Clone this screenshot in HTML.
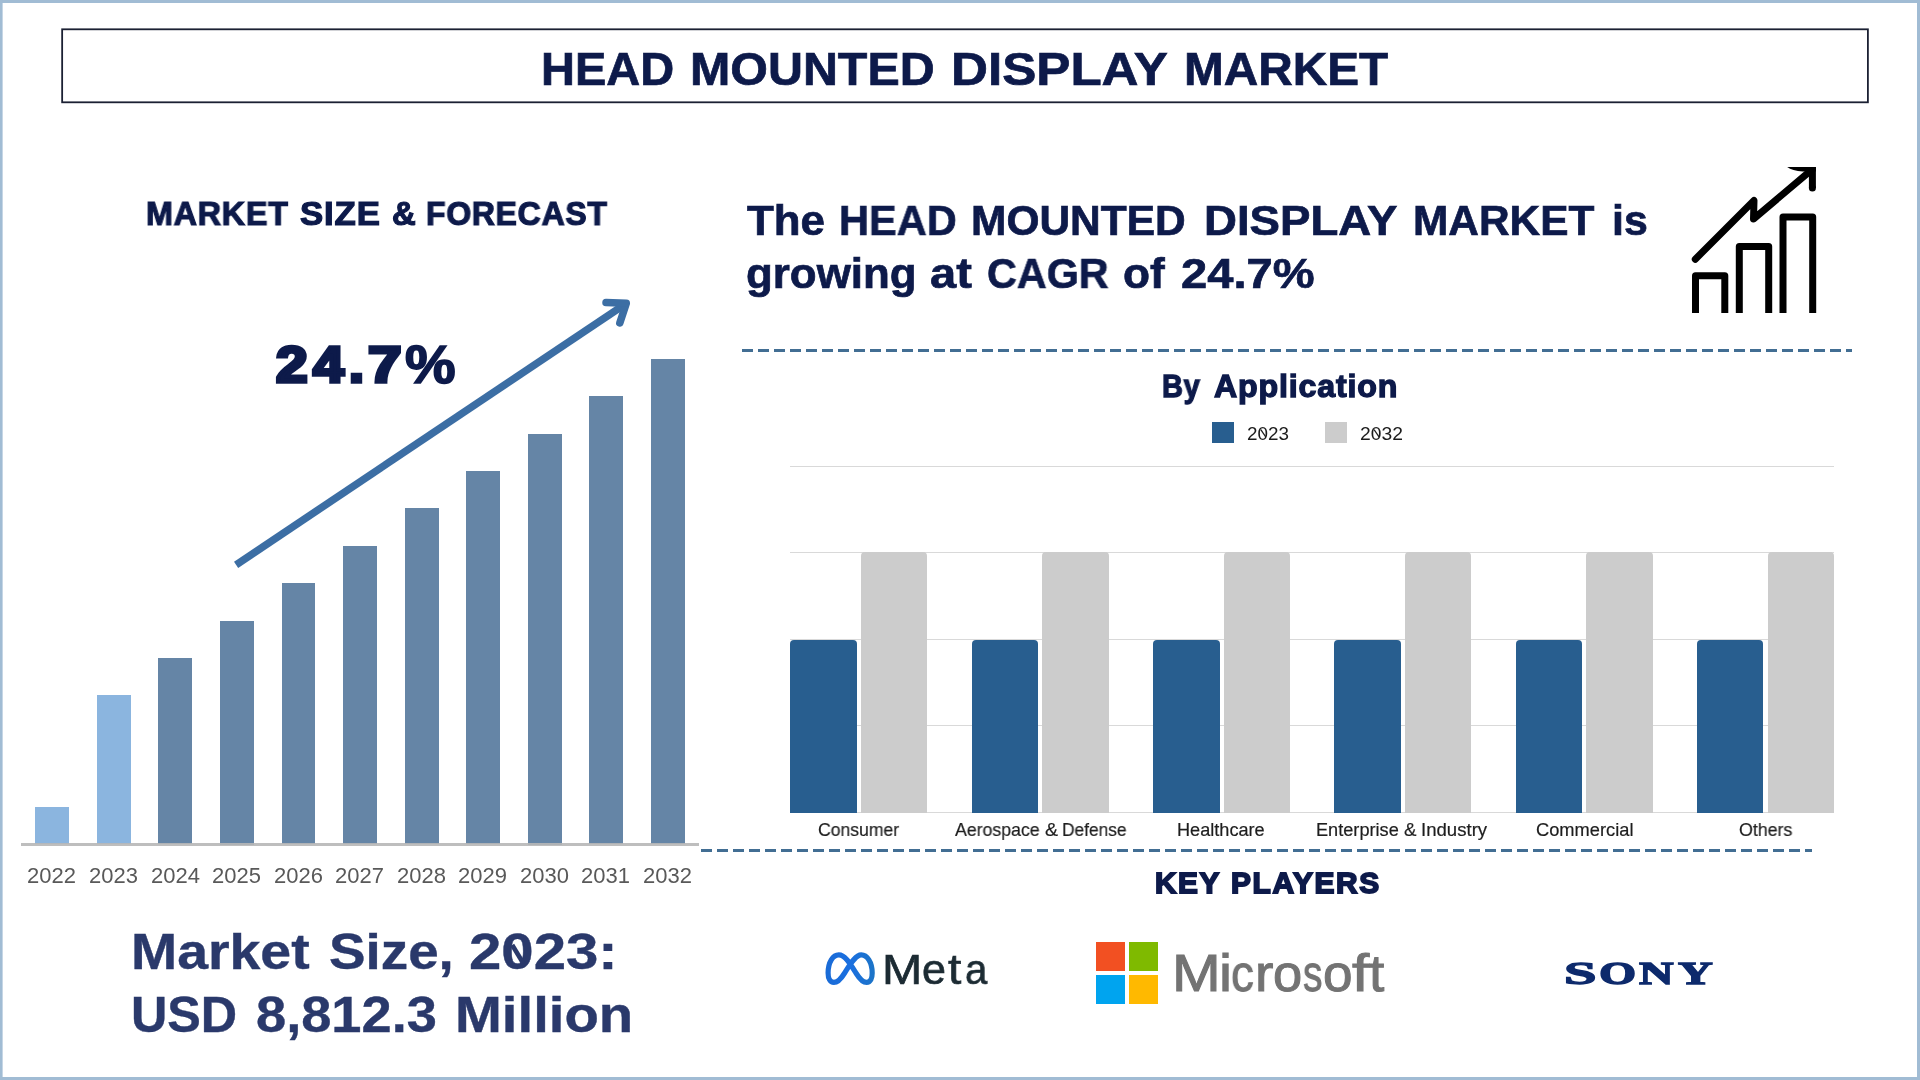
<!DOCTYPE html>
<html>
<head>
<meta charset="utf-8">
<title>Head Mounted Display Market</title>
<style>
  html, body { margin: 0; padding: 0; }
  body {
    width: 1920px; height: 1080px; overflow: hidden; background: #ffffff;
    font-family: "Liberation Sans", sans-serif;
    position: relative;
  }
  .t {
    position: absolute; white-space: nowrap; line-height: 1;
    transform-origin: 0 0; margin: 0; padding: 0; will-change: transform;
  }
  .navy { color: #0d1a4a; }
  .b { font-weight: bold; -webkit-text-stroke: 0.7px currentColor; }
  /* left bar chart */
  .lb { position: absolute; width: 33.8px; background: #6585a6; }
  .lb.l { background: #8bb5df; }
  .yr { color: #595959; font-size: 22px; }
  /* right bar chart */
  .grid { position: absolute; left: 790px; width: 1044px; height: 1px; background: #d9d9d9; }
  .rb { position: absolute; width: 66.6px; border-radius: 4px 4px 0 0; }
  .rb.blue { background: #285e8f; top: 639.6px; height: 173px; }
  .rb.gray { background: #cccccc; top: 552.4px; height: 260.2px; }
  .cat { color: #1f1f1f; font-size: 17.3px; }
  .leg { color: #1c1c1c; font-size: 17.6px; }
  .dash { position: absolute; height: 3.5px;
    background: repeating-linear-gradient(90deg, #426e93 0, #426e93 11.5px, transparent 11.5px, transparent 16px); }
</style>
</head>
<body>
<svg id="frame" style="position:absolute; left:0; top:0;" width="1920" height="1080" viewBox="0 0 1920 1080">
  <g fill="#a1bcd4"><rect x="0" y="0" width="1920" height="3"/><rect x="0" y="1077" width="1920" height="3"/><rect x="0" y="0" width="2.6" height="1080"/><rect x="1917" y="0" width="3" height="1080"/></g>
</svg>

<!--GEN-START-->
<div id="title" style="font-weight:bold;color:#0d1a4a;-webkit-text-stroke-color:#0d1a4a;">
  <span class="t" style="left:540.91px;top:46.25px;font-size:46.37px;-webkit-text-stroke-width:0.7px;transform:scaleX(1.0141)">HEAD</span>
  <span class="t" style="left:689.83px;top:46.25px;font-size:46.37px;-webkit-text-stroke-width:0.7px;transform:scaleX(1.0439)">MOUNTED</span>
  <span class="t" style="left:950.86px;top:46.25px;font-size:46.37px;-webkit-text-stroke-width:0.7px;transform:scaleX(1.1033)">DISPLAY</span>
  <span class="t" style="left:1184.06px;top:46.25px;font-size:46.37px;-webkit-text-stroke-width:0.7px;transform:scaleX(1.0302)">MARKET</span>
</div>
<div id="msf" style="font-weight:bold;color:#0d1a4a;-webkit-text-stroke-color:#0d1a4a;">
  <span class="t" style="left:145.93px;top:197.50px;font-size:32.92px;-webkit-text-stroke-width:1.2px;letter-spacing:0.8px;transform:scaleX(0.9798)">MARKET</span>
  <span class="t" style="left:300.38px;top:197.50px;font-size:32.92px;-webkit-text-stroke-width:1.2px;letter-spacing:0.8px;transform:scaleX(1.0570)">SIZE</span>
  <span class="t" style="left:391.65px;top:197.50px;font-size:32.92px;-webkit-text-stroke-width:1.2px;letter-spacing:0.8px;transform:scaleX(1.0005)">&amp;</span>
  <span class="t" style="left:426.45px;top:197.50px;font-size:32.92px;-webkit-text-stroke-width:1.2px;letter-spacing:0.8px;transform:scaleX(0.9696)">FORECAST</span>
</div>
<div id="h1" style="font-weight:bold;color:#0d1a4a;-webkit-text-stroke-color:#0d1a4a;">
  <span class="t" style="left:747.07px;top:199.65px;font-size:41.86px;-webkit-text-stroke-width:0.7px;transform:scaleX(1.0476)">The</span>
  <span class="t" style="left:839.37px;top:199.65px;font-size:41.86px;-webkit-text-stroke-width:0.7px;transform:scaleX(0.9917)">HEAD</span>
  <span class="t" style="left:971.11px;top:199.65px;font-size:41.86px;-webkit-text-stroke-width:0.7px;transform:scaleX(1.0147)">MOUNTED</span>
  <span class="t" style="left:1204.33px;top:199.65px;font-size:41.86px;-webkit-text-stroke-width:0.7px;transform:scaleX(1.0898)">DISPLAY</span>
  <span class="t" style="left:1412.52px;top:199.65px;font-size:41.86px;-webkit-text-stroke-width:0.7px;transform:scaleX(1.0128)">MARKET</span>
  <span class="t" style="left:1611.86px;top:199.65px;font-size:41.86px;-webkit-text-stroke-width:0.7px;transform:scaleX(1.0252)">is</span>
</div>
<div id="h2" style="font-weight:bold;color:#0d1a4a;-webkit-text-stroke-color:#0d1a4a;">
  <span class="t" style="left:745.77px;top:252.55px;font-size:41.86px;-webkit-text-stroke-width:0.7px;transform:scaleX(1.0476)">growing</span>
  <span class="t" style="left:929.51px;top:252.55px;font-size:41.86px;-webkit-text-stroke-width:0.7px;transform:scaleX(1.1249)">at</span>
  <span class="t" style="left:986.65px;top:252.55px;font-size:41.86px;-webkit-text-stroke-width:0.7px;transform:scaleX(0.9870)">CAGR</span>
  <span class="t" style="left:1123.14px;top:252.55px;font-size:41.86px;-webkit-text-stroke-width:0.7px;transform:scaleX(1.0555)">of</span>
  <span class="t" style="left:1181.06px;top:252.55px;font-size:41.86px;-webkit-text-stroke-width:0.7px;transform:scaleX(1.1251)">24.7%</span>
</div>
<div id="byapp" style="font-weight:bold;color:#0d1a4a;-webkit-text-stroke-color:#0d1a4a;">
  <span class="t" style="left:1162.08px;top:371.35px;font-size:30.67px;-webkit-text-stroke-width:1.3px;letter-spacing:0.8px;transform:scaleX(0.9418)">By</span>
  <span class="t" style="left:1214.08px;top:371.35px;font-size:30.67px;-webkit-text-stroke-width:1.3px;letter-spacing:0.8px;transform:scaleX(1.0491)">Application</span>
</div>
<div id="kp" style="font-weight:bold;color:#0d1a4a;-webkit-text-stroke-color:#0d1a4a;">
  <span class="t" style="left:1154.53px;top:868.85px;font-size:29.14px;-webkit-text-stroke-width:1.8px;letter-spacing:1.6px;transform:scaleX(1.0213)">KEY</span>
  <span class="t" style="left:1230.82px;top:868.85px;font-size:29.14px;-webkit-text-stroke-width:1.8px;letter-spacing:1.6px;transform:scaleX(1.0255)">PLAYERS</span>
</div>
<div id="ms1" style="font-weight:bold;color:#2a396b;-webkit-text-stroke-color:#2a396b;">
  <span class="t" style="left:131.11px;top:927.40px;font-size:50.29px;-webkit-text-stroke-width:0.4px;transform:scaleX(1.1021)">Market</span>
  <span class="t" style="left:328.64px;top:927.40px;font-size:50.29px;-webkit-text-stroke-width:0.4px;transform:scaleX(1.0892)">Size,</span>
  <span class="t" style="left:468.62px;top:927.40px;font-size:50.29px;-webkit-text-stroke-width:0.4px;transform:scaleX(1.1559)">2023:</span>
</div>
<div id="ms2" style="font-weight:bold;color:#2a396b;-webkit-text-stroke-color:#2a396b;">
  <span class="t" style="left:131.08px;top:990.30px;font-size:50.29px;-webkit-text-stroke-width:0.4px;transform:scaleX(0.9987)">USD</span>
  <span class="t" style="left:256.29px;top:990.30px;font-size:50.29px;-webkit-text-stroke-width:0.4px;transform:scaleX(1.0780)">8,812.3</span>
  <span class="t" style="left:455.21px;top:990.30px;font-size:50.29px;-webkit-text-stroke-width:0.4px;transform:scaleX(1.1191)">Million</span>
</div>
<div id="cagr" style="font-weight:bold;color:#0d1a4a;-webkit-text-stroke-color:#0d1a4a;">
  <span class="t" style="left:275.58px;top:341.10px;font-size:49.86px;-webkit-text-stroke-width:3.6px;transform:scaleX(1.1411)">2</span>
  <span class="t" style="left:312.77px;top:341.10px;font-size:49.86px;-webkit-text-stroke-width:3.6px;transform:scaleX(1.1153)">4</span>
  <span class="t" style="left:348.79px;top:341.10px;font-size:49.86px;-webkit-text-stroke-width:3.6px;transform:scaleX(1.0813)">.</span>
  <span class="t" style="left:368.49px;top:341.10px;font-size:49.86px;-webkit-text-stroke-width:3.6px;transform:scaleX(1.2076)">7</span>
  <span class="t" style="left:405.45px;top:339.10px;font-size:52.72px;-webkit-text-stroke-width:1.6px;transform:scaleX(1.0793)">%</span>
</div>
<div id="meta" style="font-weight:normal;color:#1c2b33;-webkit-text-stroke-color:#1c2b33;">
  <span class="t" style="left:881.63px;top:947.65px;font-size:42.95px;-webkit-text-stroke-width:0.7px;transform:scaleX(1.1251)">M</span>
  <span class="t" style="left:922.02px;top:947.65px;font-size:42.95px;-webkit-text-stroke-width:0.7px;transform:scaleX(1.0026)">e</span>
  <span class="t" style="left:947.67px;top:947.65px;font-size:42.95px;-webkit-text-stroke-width:0.7px;transform:scaleX(1.1145)">t</span>
  <span class="t" style="left:964.87px;top:947.65px;font-size:42.95px;-webkit-text-stroke-width:0.7px;transform:scaleX(0.9382)">a</span>
</div>
<div id="msft" style="font-weight:normal;color:#737373;-webkit-text-stroke-color:#737373;">
  <span class="t" style="left:1171.73px;top:947.80px;font-size:51.74px;-webkit-text-stroke-width:1.0px;transform:scaleX(1.1301)">M</span>
  <span class="t" style="left:1218.74px;top:947.80px;font-size:51.74px;-webkit-text-stroke-width:1.0px;transform:scaleX(1.1359)">i</span>
  <span class="t" style="left:1231.30px;top:947.80px;font-size:51.74px;-webkit-text-stroke-width:1.0px;transform:scaleX(0.8839)">c</span>
  <span class="t" style="left:1255.06px;top:947.80px;font-size:51.74px;-webkit-text-stroke-width:1.0px;transform:scaleX(1.0694)">r</span>
  <span class="t" style="left:1273.10px;top:947.80px;font-size:51.74px;-webkit-text-stroke-width:1.0px;transform:scaleX(1.0147)">o</span>
  <span class="t" style="left:1303.39px;top:947.80px;font-size:51.74px;-webkit-text-stroke-width:1.0px;transform:scaleX(0.7513)">s</span>
  <span class="t" style="left:1323.18px;top:947.80px;font-size:51.74px;-webkit-text-stroke-width:1.0px;transform:scaleX(1.0265)">o</span>
  <span class="t" style="left:1352.12px;top:947.80px;font-size:51.74px;-webkit-text-stroke-width:1.0px;transform:scaleX(1.1959)">f</span>
  <span class="t" style="left:1369.10px;top:947.80px;font-size:51.74px;-webkit-text-stroke-width:1.0px;transform:scaleX(1.0625)">t</span>
</div>
<div id="sony" style="font-weight:bold;color:#0d2a6c;-webkit-text-stroke-color:#0d2a6c;font-family:'Liberation Serif';">
  <span class="t" style="left:1563.56px;top:957.35px;font-size:32.52px;-webkit-text-stroke-width:1.3px;transform:scaleX(1.7946)">S</span>
  <span class="t" style="left:1598.52px;top:957.35px;font-size:32.52px;-webkit-text-stroke-width:1.3px;transform:scaleX(1.4691)">O</span>
  <span class="t" style="left:1639.05px;top:957.35px;font-size:32.52px;-webkit-text-stroke-width:1.3px;transform:scaleX(1.4705)">N</span>
  <span class="t" style="left:1677.62px;top:957.35px;font-size:32.52px;-webkit-text-stroke-width:1.3px;transform:scaleX(1.4794)">Y</span>
</div>
<div id="cats" style="font-weight:normal;color:#1e1e1e;-webkit-text-stroke-color:#1e1e1e;">
  <span class="t" style="left:817.50px;top:821.20px;font-size:18.02px;-webkit-text-stroke-width:0.2px;transform:scaleX(0.9770)">Consumer</span>
  <span class="t" style="left:954.56px;top:821.20px;font-size:18.02px;-webkit-text-stroke-width:0.2px;transform:scaleX(0.9837)">Aerospace</span>
  <span class="t" style="left:1045.32px;top:821.20px;font-size:18.02px;-webkit-text-stroke-width:0.2px;transform:scaleX(1.0795)">&amp;</span>
  <span class="t" style="left:1061.97px;top:821.20px;font-size:18.02px;-webkit-text-stroke-width:0.2px;transform:scaleX(0.9627)">Defense</span>
  <span class="t" style="left:1176.61px;top:821.20px;font-size:18.02px;-webkit-text-stroke-width:0.2px;transform:scaleX(1.0065)">Healthcare</span>
  <span class="t" style="left:1316.31px;top:821.20px;font-size:18.02px;-webkit-text-stroke-width:0.2px;transform:scaleX(1.0084)">Enterprise</span>
  <span class="t" style="left:1403.65px;top:821.20px;font-size:18.02px;-webkit-text-stroke-width:0.2px;transform:scaleX(1.0353)">&amp;</span>
  <span class="t" style="left:1420.79px;top:821.20px;font-size:18.02px;-webkit-text-stroke-width:0.2px;transform:scaleX(1.0322)">Industry</span>
  <span class="t" style="left:1535.67px;top:821.20px;font-size:18.02px;-webkit-text-stroke-width:0.2px;transform:scaleX(1.0141)">Commercial</span>
  <span class="t" style="left:1738.86px;top:821.20px;font-size:18.02px;-webkit-text-stroke-width:0.2px;transform:scaleX(0.9875)">Others</span>
</div>
<!--GEN-END-->

<!-- Title -->
<svg id="titlebox" style="position:absolute; left:0; top:0;" width="1920" height="120" viewBox="0 0 1920 120">
  <rect x="62.15" y="29.3" width="1805.75" height="73" fill="none" stroke="#1b2033" stroke-width="1.8"/>
</svg>

<!-- Left panel heading -->

<!-- Left bar chart -->
<div id="lchart">
  <div class="lb l" style="left:35.25px; top:807.1px; height:37.4px;"></div>
  <div class="lb l" style="left:96.83px; top:694.8px; height:149.7px;"></div>
  <div class="lb" style="left:158.41px; top:657.9px; height:186.6px;"></div>
  <div class="lb" style="left:219.99px; top:620.5px; height:224.0px;"></div>
  <div class="lb" style="left:281.57px; top:583.1px; height:261.4px;"></div>
  <div class="lb" style="left:343.15px; top:545.7px; height:298.8px;"></div>
  <div class="lb" style="left:404.73px; top:508.3px; height:336.2px;"></div>
  <div class="lb" style="left:466.31px; top:470.9px; height:373.6px;"></div>
  <div class="lb" style="left:527.89px; top:433.5px; height:411.0px;"></div>
  <div class="lb" style="left:589.47px; top:396.1px; height:448.4px;"></div>
  <div class="lb" style="left:651.05px; top:358.7px; height:485.8px;"></div>
  <div style="position:absolute; left:21.2px; top:843px; width:678px; height:2.7px; background:#b7b7b7; opacity:0.9;"></div>
</div>

<div class="t yr" style="left:27.3px; top:865px;">2022</div>
<div class="t yr" style="left:88.9px; top:865px;">2023</div>
<div class="t yr" style="left:150.5px; top:865px;">2024</div>
<div class="t yr" style="left:212.0px; top:865px;">2025</div>
<div class="t yr" style="left:273.5px; top:865px;">2026</div>
<div class="t yr" style="left:335.1px; top:865px;">2027</div>
<div class="t yr" style="left:396.6px; top:865px;">2028</div>
<div class="t yr" style="left:458.2px; top:865px;">2029</div>
<div class="t yr" style="left:519.7px; top:865px;">2030</div>
<div class="t yr" style="left:581.3px; top:865px;">2031</div>
<div class="t yr" style="left:642.8px; top:865px;">2032</div>

<!-- Trend arrow -->
<svg style="position:absolute; left:0; top:0;" width="720" height="620" viewBox="0 0 720 620">
  <g fill="none" stroke="#3c6ea4" stroke-width="7.5">
    <path d="M236.1 564.8 L626 303.6" stroke-linecap="butt"/>
    <path d="M606 302.6 L626.3 303.3 L619.8 323" stroke-linecap="round" stroke-linejoin="round"/>
  </g>
</svg>

<!-- Market size text -->

<!-- Right heading -->

<!-- Growth icon -->
<svg id="icon" style="position:absolute; left:1680px; top:155px;" width="150" height="170" viewBox="1680 155 150 170">
  <defs><clipPath id="ic"><rect x="1680" y="167" width="135.9" height="160"/></clipPath></defs>
  <g fill="none" stroke="#000" stroke-width="7">
    <path d="M1695.5 313 V275.7 H1724.8 V313" stroke-linejoin="round"/>
    <path d="M1739.3 313 V246.5 H1768.7 V313" stroke-linejoin="round"/>
    <path d="M1783 313 V217.1 H1812.7 V313" stroke-linejoin="round"/>
    <path d="M1695.3 259.2 L1754 200.5 L1753.5 219 L1812 169.5" stroke-linecap="round" stroke-linejoin="round" clip-path="url(#ic)"/>
    <path d="M1812.4 167 V188" stroke-linecap="butt"/>
    <circle cx="1812.4" cy="188" r="3.5" fill="#000" stroke="none"/>
    <path d="M1787.2 167 H1815.9 V171.5 H1803 Q1792 170.6 1787.2 167 Z" fill="#000" stroke="none"/>
  </g>
</svg>

<!-- dashed separators -->
<div class="dash" style="left:742.1px; top:348.75px; width:1110.4px;"></div>
<div class="dash" style="left:701.25px; top:848.8px; width:1110.4px;"></div>

<!-- By Application -->
<div style="position:absolute; left:1212px; top:422px; width:22px; height:21px; background:#285e8f;"></div>
<div class="t leg" id="lg1" style="transform:scaleX(1.07); left:1246.85px; top:425.7px;">2023</div>
<div style="position:absolute; left:1325px; top:422px; width:22px; height:21px; background:#cccccc;"></div>
<div class="t leg" id="lg2" style="transform:scaleX(1.096); left:1360.05px; top:425.7px;">2032</div>

<!-- Right chart -->
<div class="grid" style="top:466px;"></div>
<div class="grid" style="top:552px;"></div>
<div class="grid" style="top:639px;"></div>
<div class="grid" style="top:725px;"></div>
<div class="grid" style="top:812px;"></div>

<div class="rb blue" style="left:790.2px;"></div><div class="rb gray" style="left:860.9px;"></div>
<div class="rb blue" style="left:971.6px;"></div><div class="rb gray" style="left:1042.2px;"></div>
<div class="rb blue" style="left:1153.0px;"></div><div class="rb gray" style="left:1223.5px;"></div>
<div class="rb blue" style="left:1334.2px;"></div><div class="rb gray" style="left:1404.9px;"></div>
<div class="rb blue" style="left:1515.5px;"></div><div class="rb gray" style="left:1586.1px;"></div>
<div class="rb blue" style="left:1696.8px;"></div><div class="rb gray" style="left:1767.5px;"></div>


<!-- Key players -->

<!-- Meta -->
<svg style="position:absolute; left:820px; top:945px;" width="60" height="46" viewBox="820 945 60 46">
  <defs><linearGradient id="mg" gradientUnits="userSpaceOnUse" x1="825" y1="0" x2="875" y2="0">
    <stop offset="0" stop-color="#1a6bd6"/><stop offset="0.5" stop-color="#1a6fe0"/><stop offset="1" stop-color="#1c74c6"/></linearGradient></defs>
  <path d="M828.1 973 C828.1 962 833 954.9 838.8 954.9 C845.3 954.9 850.3 964 856.3 973.5 C860.3 980 863.3 982.4 866.6 982.4 C870.6 982.4 872.2 978 872.2 973 C872.2 962 867 954.9 861.3 954.9 C855.3 954.9 850.3 964 844.3 973.5 C840.3 980 837.3 982.4 833.9 982.4 C830 982.4 828.1 978.5 828.1 973 Z"
        fill="none" stroke="url(#mg)" stroke-width="5.2" stroke-linejoin="round"/>
</svg>

<!-- Microsoft -->
<div style="position:absolute; left:1096px; top:942px; width:29px; height:29px; background:#f25022;"></div>
<div style="position:absolute; left:1129px; top:942px; width:29px; height:29px; background:#7fba00;"></div>
<div style="position:absolute; left:1096px; top:975px; width:29px; height:29px; background:#00a4ef;"></div>
<div style="position:absolute; left:1129px; top:975px; width:29px; height:29px; background:#ffb900;"></div>

<!-- Sony -->

<!-- slashed zeros -->
<svg style="position:absolute; left:0; top:0; pointer-events:none;" width="1920" height="1080" viewBox="0 0 1920 1080">
  <line x1="1260.8" y1="429.6" x2="1265.7" y2="436.8" stroke="#1c1c1c" stroke-width="1.2"/>
  <line x1="1374.1" y1="429.6" x2="1379.0" y2="436.8" stroke="#1c1c1c" stroke-width="1.2"/>
  <line x1="512.2" y1="945" x2="523.4" y2="963.5" stroke="#2a396b" stroke-width="4.6"/>
</svg>

</body>
</html>
